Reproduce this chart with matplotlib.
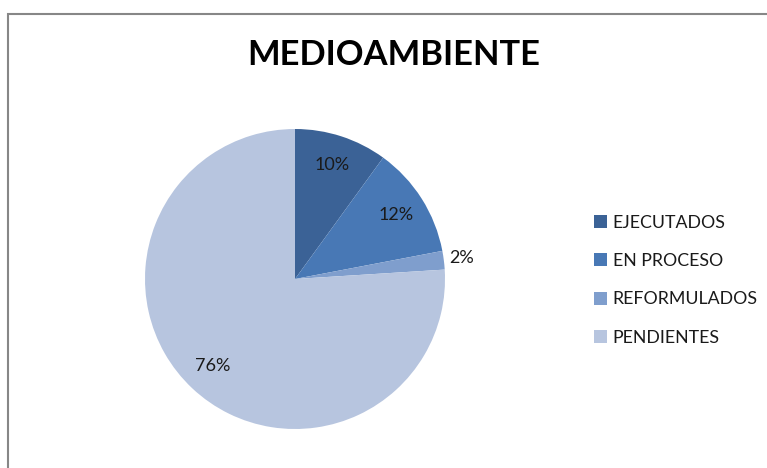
import matplotlib
matplotlib.use("Agg")
import matplotlib.pyplot as plt
from matplotlib.patches import Rectangle

labels = ["EJECUTADOS", "EN PROCESO", "REFORMULADOS", "PENDIENTES"]
values = [10, 12, 2, 76]
colors = ["#3B6296", "#4878B5", "#7F9ECD", "#B7C5DF"]
title = "MEDIOAMBIENTE"

plt.rcParams['font.family'] = ['Lato', 'DejaVu Sans']

fig = plt.figure(figsize=(7.67, 4.68), dpi=100)
W, H = 767, 468

# chart border
fig.patches.append(Rectangle((8/W, -0.1), 2, (H-14)/H + 0.1, transform=fig.transFigure,
                             fill=False, edgecolor="#878787", lw=1.5))

ax = fig.add_axes([145/W, 39/H, 300/W, 300/H])
wedges, texts, autotexts = ax.pie(values, colors=colors, startangle=90, counterclock=False,
                                  autopct="%1.0f%%", pctdistance=0.8,
                                  wedgeprops=dict(linewidth=0),
                                  textprops=dict(fontsize=13, color="#1a1a1a"))
# small slice label sits outside
x, y = autotexts[2].get_position()
autotexts[2].set_position((x*1.12/0.8, y*1.12/0.8))
ax.set_xlim(-1, 1)
ax.set_ylim(-1, 1)
ax.set_aspect("equal")

fig.text(394/W, 1 - 55/H, title, ha="center", va="center", fontsize=24.8, fontweight="bold")

leg = fig.legend(wedges, labels, loc="upper left", bbox_to_anchor=(585/W, 1 - 206/H),
                 frameon=False, fontsize=12.8, handlelength=0.75, handleheight=0.75,
                 handletextpad=0.3, labelspacing=1.25, borderpad=0)
for t in leg.get_texts():
    t.set_color("#1a1a1a")

fig.savefig("out.png", dpi=100)
